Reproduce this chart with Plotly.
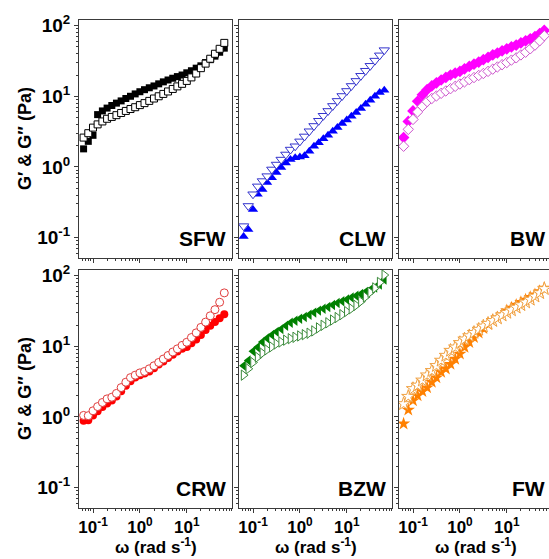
import plotly.graph_objects as go

# ---------------- data ----------------
omega = [0.0628, 0.0791, 0.0996, 0.125, 0.158, 0.199, 0.251, 0.315, 0.397, 0.500,
         0.628, 0.791, 0.996, 1.25, 1.58, 1.99, 2.51, 3.15, 3.97, 5.00,
         6.28, 7.91, 9.96, 12.5, 15.8, 19.9, 25.1, 31.5, 39.7, 50.0, 62.8]

samples = ["SFW", "CLW", "BW", "CRW", "BZW", "FW"]

sfw_gp = [1.8, 2.3, 2.8, 5.5, 6.2, 6.8, 7.4, 8.0, 8.6, 9.3, 10.0, 10.8, 11.6, 12.4, 13.2,
          14.0, 15.0, 16.0, 17.0, 18.0, 19.0, 20.0, 21.5, 23.0, 25.0, 27.0, 30.0, 33.0,
          37.0, 42.0, 48.0]
sfw_gpp = [2.6, 3.0, 3.6, 4.0, 4.4, 4.8, 5.1, 5.4, 5.8, 6.2, 6.6, 7.0, 7.5, 8.0, 8.6,
           9.3, 10.0, 10.8, 11.7, 12.7, 13.8, 15.0, 16.5, 18.5, 21.0, 25.0, 29.0, 34.0,
           40.0, 47.0, 57.0]

clw_gp = [0.103, 0.13, 0.25, 0.41, 0.48, 0.60, 0.70, 0.83, 0.98, 1.14, 1.27, 1.35, 1.38,
          1.44, 1.66, 1.96, 2.2, 2.5, 2.8, 3.2, 3.6, 4.1, 4.6, 5.2, 5.9, 6.7, 7.7, 8.8,
          10.0, 11.3, 12.2]
clw_gpp = [0.145, 0.28, 0.41, 0.53, 0.63, 0.74, 0.92, 1.08, 1.27, 1.5, 1.76, 1.96, 2.3,
           2.7, 3.2, 3.8, 4.5, 5.3, 6.2, 7.3, 8.6, 10.1, 11.9, 14.0, 16.5, 19.5, 23.0,
           27.0, 32.0, 38.0, 45.0]

bw_gp = [2.6, 4.4, 6.2, 8.5, 10.5, 12.4, 14.0, 15.5, 17.0, 18.5, 20.0, 21.3, 22.5, 24.5,
         26.5, 28.5, 30.5, 33.0, 35.5, 38.5, 41.0, 44.0, 47.0, 50.0, 53.0, 57.0, 61.0,
         65.0, 70.0, 77.0, 86.0]
bw_gpp = [1.96, 3.4, 4.7, 6.0, 7.2, 8.4, 9.3, 10.1, 11.0, 11.9, 12.8, 13.8, 14.9, 16.0,
          17.2, 18.4, 19.7, 21.0, 22.5, 24.2, 26.0, 28.0, 30.0, 32.5, 35.0, 38.5, 42.0,
          47.0, 53.0, 61.0, 72.0]

crw_gp = [0.88, 0.90, 1.05, 1.2, 1.38, 1.55, 1.7, 1.95, 2.3, 2.75, 3.2, 3.6, 3.9, 4.1,
          4.4, 4.9, 5.5, 6.1, 6.8, 7.6, 8.4, 9.2, 9.8, 11.0, 12.5, 14.5, 17.0, 19.5,
          22.0, 25.0, 28.5]
crw_gpp = [1.05, 1.04, 1.22, 1.40, 1.6, 1.8, 1.9, 2.15, 2.6, 3.1, 3.6, 3.9, 4.2, 4.4,
           4.8, 5.3, 5.9, 6.6, 7.4, 8.3, 9.2, 10.3, 11.4, 13.3, 15.5, 18.5, 22.0, 27.0,
           33.0, 42.0, 57.0]

bzw_gp = [5.3, 6.3, 8.5, 9.7, 11.5, 13.0, 14.5, 16.0, 17.5, 19.5, 21.5, 23.0, 24.5, 26.0,
          28.0, 30.0, 32.0, 34.0, 36.0, 38.5, 41.0, 43.5, 46.0, 49.0, 52.0, 55.0, 59.0,
          63.0, 68.0, 75.0, 88.0]
bzw_gpp = [3.9, 4.8, 5.9, 7.0, 8.0, 8.9, 9.8, 10.8, 11.5, 12.2, 12.8, 13.4, 14.0, 14.6,
           15.3, 16.5, 18.2, 19.8, 21.5, 23.5, 25.5, 28.0, 31.0, 34.0, 38.0, 43.0, 50.0,
           58.0, 67.0, 80.0, 102.0]

fw_gp = [0.80, 1.26, 1.7, 2.0, 2.3, 2.6, 3.1, 3.6, 4.3, 4.8, 5.6, 6.6, 7.8, 9.7, 11.4,
         13.4, 15.5, 18.0, 20.5, 23.0, 25.5, 28.0, 32.0, 35.0, 38.5, 42.0, 45.5, 49.5,
         54.0, 60.0, 67.0]
fw_gpp = [1.53, 1.94, 2.5, 2.8, 3.3, 3.9, 4.5, 5.3, 6.3, 7.4, 8.7, 9.7, 11.2, 12.6, 14.0,
          15.6, 17.3, 19.2, 21.0, 23.0, 25.0, 27.5, 30.0, 32.5, 35.5, 38.5, 42.0, 46.0,
          51.0, 57.0, 65.0]

storage = [sfw_gp, clw_gp, bw_gp, crw_gp, bzw_gp, fw_gp]
loss = [sfw_gpp, clw_gpp, bw_gpp, crw_gpp, bzw_gpp, fw_gpp]

y_tickvals = [0.1, 1, 10, 100]
y_ticktext = ["10<sup>-1</sup>", "10<sup>0</sup>", "10<sup>1</sup>", "10<sup>2</sup>"]
x_tickvals = [0.1, 1, 10]
x_ticktext = ["10<sup>-1</sup>", "10<sup>0</sup>", "10<sup>1</sup>"]

# ---------------- styles ----------------
fill_colors = ["#000000", "#0000FF", "#FF00FF", "#FF0000", "#008000", "#FF8000"]
open_colors = ["#000000", "#3333CC", "#CC55CC", "#E03C3C", "#3A8A3A", "#F0A040"]
fill_symbols = ["square", "triangle-up", "diamond", "circle", "triangle-left", "star"]
open_symbols = ["square", "triangle-down", "diamond", "circle", "triangle-right", "star"]
fill_sizes = [7, 9, 9, 8, 9, 10]
open_sizes = [7, 9, 8, 8, 9, 10]

W, H = 549, 559
L, R, T, B = 79, 0, 20, 51
PW, PH = W - L - R, H - T - B

col_px = [(79, 232), (239, 392), (399, 549)]
row_px = [(20, 258), (270, 508)]
PXDEC = 46.9
x_ranges = [[-1.3, -1.3 + (c[1] - c[0]) / PXDEC] for c in col_px]
y_range = [-1.29, 2.08]

FONT = "Liberation Sans, Arial, sans-serif"
AX_COLOR = "#3a3a3a"

minor_vals = [m * 10.0 ** e for e in range(-2, 3) for m in range(2, 10)]

fig = go.Figure()
layout = dict(
    width=W, height=H,
    margin=dict(l=L, r=R, t=T, b=B, pad=0),
    paper_bgcolor="white", plot_bgcolor="white",
    showlegend=False,
    font=dict(family=FONT, color="black"),
)
annotations = []

for k in range(6):
    r, c = divmod(k, 3)
    n = k + 1
    xname = "x" if n == 1 else f"x{n}"
    yname = "y" if n == 1 else f"y{n}"
    xd = [(col_px[c][0] - L) / PW, (col_px[c][1] - L) / PW]
    yd = [(H - B - row_px[r][1]) / PH, (H - B - row_px[r][0]) / PH]

    fig.add_trace(go.Scatter(
        x=omega, y=storage[k], mode="markers", xaxis=xname, yaxis=yname,
        marker=dict(symbol=fill_symbols[k], size=fill_sizes[k], color=fill_colors[k],
                    line=dict(width=0)),
        cliponaxis=True, name=samples[k] + " G'"))
    fig.add_trace(go.Scatter(
        x=omega, y=loss[k], mode="markers", xaxis=xname, yaxis=yname,
        marker=dict(symbol=open_symbols[k], size=open_sizes[k], color="white",
                    line=dict(width=1, color=open_colors[k])),
        cliponaxis=True, name=samples[k] + " G''"))

    xa = dict(
        domain=xd, type="log", range=x_ranges[c], anchor=yname,
        showline=True, linecolor=AX_COLOR, linewidth=1, mirror=True,
        showgrid=False, zeroline=False,
        ticks="outside", ticklen=4, tickwidth=1, tickcolor=AX_COLOR,
        tickmode="array", tickvals=x_tickvals, ticktext=x_ticktext,
        showticklabels=(r == 1), ticklabelstandoff=0,
        tickfont=dict(family=FONT, size=17, color="black", weight="bold"),
        minor=dict(tickmode="array", tickvals=minor_vals, ticks="outside",
                   ticklen=2, tickwidth=1, tickcolor=AX_COLOR, showgrid=False),
    )
    ya = dict(
        domain=yd, type="log", range=y_range, anchor=xname,
        showline=True, linecolor=AX_COLOR, linewidth=1, mirror=(c != 2),
        showgrid=False, zeroline=False,
        ticks="outside", ticklen=4, tickwidth=1, tickcolor=AX_COLOR,
        tickmode="array", tickvals=y_tickvals, ticktext=y_ticktext,
        showticklabels=(c == 0),
        tickfont=dict(family=FONT, size=19, color="black", weight="bold"),
        minor=dict(tickmode="array", tickvals=minor_vals, ticks="outside",
                   ticklen=2, tickwidth=1, tickcolor=AX_COLOR, showgrid=False),
    )
    layout["xaxis" if n == 1 else f"xaxis{n}"] = xa
    layout["yaxis" if n == 1 else f"yaxis{n}"] = ya

    # sample label (bottom-right inside panel)
    annotations.append(dict(
        text=f"<b>{samples[k]}</b>", showarrow=False,
        xref=f"{xname} domain", yref=f"{yname} domain",
        x=1, y=0, xanchor="right", yanchor="bottom",
        xshift=-4 if c < 2 else -2, yshift=6,
        font=dict(family=FONT, size=21, color="black")))

# y-axis titles, one per row
for r in range(2):
    yc = (H - B - (row_px[r][0] + row_px[r][1]) / 2) / PH
    annotations.append(dict(
        text="<b>G′ & G″ (Pa)</b>", showarrow=False, textangle=-90,
        xref="paper", yref="paper", x=(25 - L) / PW, y=yc,
        xanchor="center", yanchor="middle",
        font=dict(family=FONT, size=18, color="black")))

# x-axis titles under bottom row
for c in range(3):
    xc = ((col_px[c][0] + min(col_px[c][0] + 153, 552)) / 2 - L) / PW
    annotations.append(dict(
        text="<b>ω (rad s<sup>-1</sup>)</b>", showarrow=False,
        xref="paper", yref="paper", x=xc, y=0, yshift=-51,
        xanchor="center", yanchor="bottom",
        font=dict(family=FONT, size=17, color="black")))

layout["annotations"] = annotations
fig.update_layout(**layout)

fig.write_html(
    "out.html",
    config={"displayModeBar": False},
    post_script="document.body.style.margin='0';document.body.style.overflow='hidden';",
)
